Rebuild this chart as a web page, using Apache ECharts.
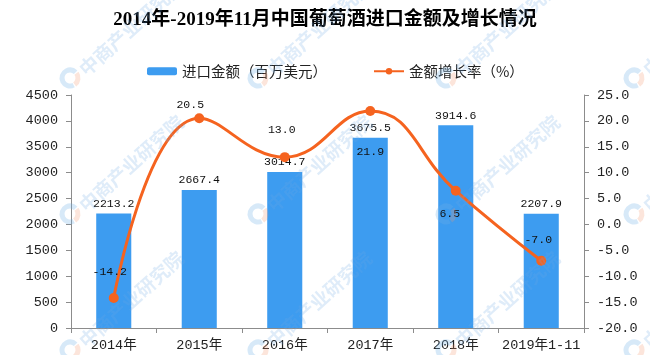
<!DOCTYPE html>
<html>
<head>
<meta charset="utf-8">
<script src="https://cdn.jsdelivr.net/npm/echarts@6/dist/echarts.min.js"></script>
<style>html,body{margin:0;padding:0;background:#fff;}#c{width:650px;height:355px;}</style>
</head>
<body>
<div id="c"></div>
<script>
const categories = ['2014年', '2015年', '2016年', '2017年', '2018年', '2019年1-11'];
const importValues = [2213.2, 2667.4, 3014.7, 3675.5, 3914.6, 2207.9];
const growthRates = [-14.2, 20.5, 13.0, 21.9, 6.5, -7.0];
const leftAxisMin = 0, leftAxisMax = 4500, leftAxisStep = 500;
const rightAxisMin = -20, rightAxisMax = 25, rightAxisStep = 5;

const titleText = '2014年-2019年11月中国葡萄酒进口金额及增长情况';
const barName = '进口金额（百万美元）';
const lineName = '金额增长率（%）';

// label placement style (not data)
const rateLabelOffsets = [[-4, -26], [-9, -13], [-3, -27], [0, 41], [-6, 23], [-3, -21]];

const MONO = "'Liberation Mono','Noto Sans CJK SC',monospace";
const CJK = "'Noto Sans CJK SC',sans-serif";

function watermark(x, y) {
  return [
    { type: 'arc', silent: true, z: 100,
      shape: { cx: x, cy: y, r: 8, startAngle: Math.PI * 0.35, endAngle: Math.PI * 1.75 },
      style: { stroke: 'rgba(110,175,230,0.28)', lineWidth: 5, fill: null } },
    { type: 'arc', silent: true, z: 100,
      shape: { cx: x, cy: y, r: 8, startAngle: Math.PI * 1.8, endAngle: Math.PI * 2.3 },
      style: { stroke: 'rgba(245,150,110,0.25)', lineWidth: 5, fill: null } },
    { type: 'text', silent: true, z: 100, x: x + 12, y: y - 6, rotation: 42 * Math.PI / 180,
      style: { text: '中商产业研究院', fill: 'rgba(110,170,228,0.22)',
               font: 'bold 19px ' + CJK, textVerticalAlign: 'middle', textAlign: 'left' } }
  ];
}
const wm = [];
[-118, 70, 258, 446, 634].forEach(x => [78, 214, 350].forEach(y => wm.push(...watermark(x, y))));

const chart = echarts.init(document.getElementById('c'), null, { renderer: 'canvas' });
chart.setOption({
  animation: false,
  backgroundColor: '#fff',
  title: {
    text: titleText, left: 'center', top: 6,
    textStyle: { fontFamily: "'Liberation Serif','Noto Sans CJK SC',serif", fontWeight: 'bold', fontSize: 19, color: '#000' }
  },
  legend: {
    left: 142, top: 59, itemGap: 46, itemWidth: 30, itemHeight: 8,
    textStyle: { fontFamily: CJK, fontSize: 14.5, color: '#222' },
    data: [barName, lineName]
  },
  grid: { left: 71, right: 66, top: 95, bottom: 27, containLabel: false },
  xAxis: {
    type: 'category', data: categories,
    axisLine: { lineStyle: { color: '#8c8c8c' } },
    axisTick: { show: true, length: 5, lineStyle: { color: '#8c8c8c' } },
    axisLabel: { interval: 0, margin: 11, fontFamily: MONO, fontSize: 13.5, color: '#222' }
  },
  yAxis: [
    { type: 'value', min: leftAxisMin, max: leftAxisMax, interval: leftAxisStep,
      splitLine: { show: false },
      axisLine: { show: true, lineStyle: { color: '#8c8c8c' } },
      axisTick: { show: true, length: 5, lineStyle: { color: '#8c8c8c' } },
      axisLabel: { margin: 13, fontFamily: MONO, fontSize: 13.5, color: '#222',
                   formatter: v => String(v) } },
    { type: 'value', min: rightAxisMin, max: rightAxisMax, interval: rightAxisStep,
      position: 'right', splitLine: { show: false },
      axisLine: { show: true, lineStyle: { color: '#8c8c8c' } },
      axisTick: { show: true, length: 5, lineStyle: { color: '#8c8c8c' } },
      axisLabel: { margin: 13, fontFamily: MONO, fontSize: 13.5, color: '#222',
                   formatter: v => v.toFixed(1) } }
  ],
  series: [
    { name: barName, type: 'bar', data: importValues, barWidth: '41%', yAxisIndex: 0,
      itemStyle: { color: '#3d9cf0' },
      label: { show: true, position: 'top', distance: 4, fontFamily: MONO, fontSize: 11.5, color: '#111',
               formatter: p => p.value.toFixed(1) } },
    { name: lineName, type: 'line', yAxisIndex: 1, smooth: 0.45,
      data: growthRates.map((v, i) => ({ value: v, label: { offset: rateLabelOffsets[i] } })),
      symbol: 'circle', symbolSize: 10,
      lineStyle: { color: '#f5631f', width: 3 },
      itemStyle: { color: '#f5631f' },
      label: { show: true, position: 'inside', fontFamily: MONO, fontSize: 11.5, color: '#111',
               textBorderWidth: 0, formatter: p => p.value.toFixed(1) },
      z: 5 }
  ],
  graphic: wm
});
</script>
</body>
</html>
